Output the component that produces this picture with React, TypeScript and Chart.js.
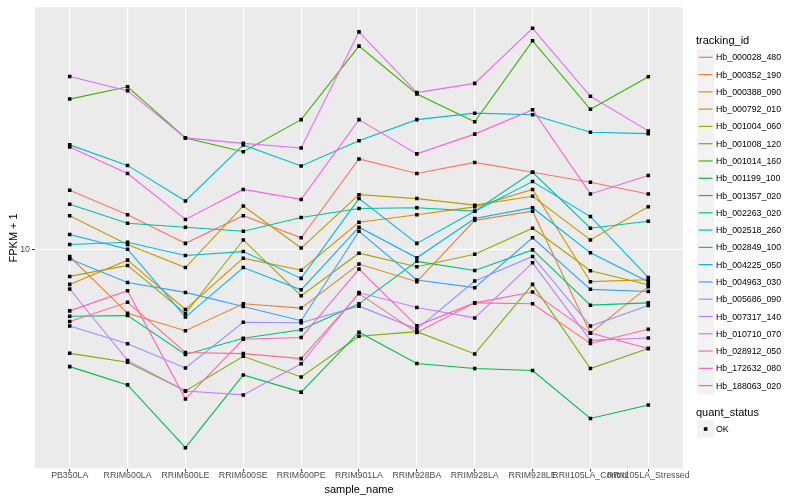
import React, { useEffect, useRef } from "react";
import { Chart, registerables } from "chart.js";

Chart.register(...registerables);

const FONT = "'Liberation Sans', Arial, Helvetica, sans-serif";

const samples = [
  "PB350LA",
  "RRIM600LA",
  "RRIM600LE",
  "RRIM600SE",
  "RRIM600PE",
  "RRIM901LA",
  "RRIM928BA",
  "RRIM928LA",
  "RRIM928LE",
  "RRII105LA_Control",
  "RRII105LA_Stressed",
];

const trackingIds = [
  "Hb_000028_480",
  "Hb_000352_190",
  "Hb_000388_090",
  "Hb_000792_010",
  "Hb_001004_060",
  "Hb_001008_120",
  "Hb_001014_160",
  "Hb_001199_100",
  "Hb_001357_020",
  "Hb_002263_020",
  "Hb_002518_260",
  "Hb_002849_100",
  "Hb_004225_050",
  "Hb_004963_030",
  "Hb_005686_090",
  "Hb_007317_140",
  "Hb_010710_070",
  "Hb_028912_050",
  "Hb_172632_080",
  "Hb_188063_020",
];

const seriesColors = [
  "#F8766D", "#EA8331", "#D89000", "#C09B00", "#A3A500",
  "#7CAE00", "#39B600", "#00BB4E", "#00BF7D", "#00C1A3",
  "#00BFC4", "#00BAE0", "#00B0F6", "#35A2FF", "#9590FF",
  "#C77CFF", "#E76BF3", "#FA62DB", "#FF62BC", "#FF6C91",
];

// FPKM + 1 per sample (order of `samples`)
const hb_000028_480 = [16.3, 13.3, 10.5, 13.2, 11.0, 21.1, 18.7, 20.5, 18.9, 17.4, 15.8];
const hb_000352_190 = [9.42, 5.89, 5.1, 6.37, 6.15, 8.85, 7.65, 12.7, 13.7, 5.0, 7.34];
const hb_000388_090 = [7.48, 9.14, 6.08, 9.29, 8.41, 12.5, 13.3, 14.2, 16.4, 7.65, 7.77];
const hb_000792_010 = [13.2, 10.4, 8.6, 14.3, 10.1, 15.7, 15.2, 14.4, 15.5, 10.8, 14.2];
const hb_001004_060 = [7.99, 8.75, 5.88, 10.8, 6.81, 9.68, 8.65, 9.6, 11.9, 8.37, 7.46];
const hb_001008_120 = [4.23, 3.93, 3.1, 4.13, 3.48, 4.87, 5.06, 4.21, 7.48, 3.73, 4.4];
const hb_001014_160 = [34.6, 38.3, 25.1, 22.4, 29.2, 53.6, 36.1, 28.7, 56.0, 31.8, 41.6];
const hb_001199_100 = [3.79, 3.26, 1.94, 3.54, 3.07, 5.04, 3.89, 3.73, 3.67, 2.47, 2.76];
const hb_001357_020 = [5.75, 5.78, 4.19, 4.79, 5.14, 6.37, 9.05, 8.39, 9.95, 6.3, 6.42];
const hb_002263_020 = [14.5, 12.4, 12.0, 11.6, 13.0, 14.0, 14.1, 13.7, 18.9, 11.9, 12.6];
const hb_002518_260 = [23.7, 20.0, 14.9, 23.7, 19.9, 24.5, 29.2, 30.8, 30.4, 26.3, 26.0];
const hb_002849_100 = [10.4, 10.6, 9.5, 9.81, 7.86, 15.2, 10.5, 13.7, 17.5, 13.1, 7.92];
const hb_004225_050 = [11.3, 10.0, 5.71, 8.6, 7.15, 12.0, 9.32, 12.9, 14.1, 9.71, 7.65];
const hb_004963_030 = [9.22, 7.6, 7.0, 6.23, 5.54, 11.6, 7.76, 7.28, 11.0, 7.18, 7.05];
const hb_005686_090 = [5.3, 4.58, 3.75, 5.47, 5.45, 6.25, 5.17, 7.69, 9.42, 5.3, 6.28];
const hb_007317_140 = [7.2, 3.99, 3.1, 3.0, 3.88, 6.99, 6.18, 5.67, 8.94, 4.71, 4.8];
const hb_010710_070 = [41.7, 37.1, 25.1, 24.0, 23.1, 60.3, 36.5, 39.4, 62.1, 35.4, 26.6];
const hb_028912_050 = [23.3, 18.7, 12.8, 16.4, 15.1, 29.2, 22.0, 25.9, 31.7, 15.8, 18.4];
const hb_172632_080 = [6.01, 7.1, 2.9, 4.75, 4.82, 8.49, 5.31, 6.42, 7.02, 5.0, 4.4];
const hb_188063_020 = [5.5, 6.45, 4.26, 4.22, 4.05, 6.93, 5.03, 6.42, 6.37, 4.59, 5.16];

const seriesValues = [
  hb_000028_480, hb_000352_190, hb_000388_090, hb_000792_010, hb_001004_060,
  hb_001008_120, hb_001014_160, hb_001199_100, hb_001357_020, hb_002263_020,
  hb_002518_260, hb_002849_100, hb_004225_050, hb_004963_030, hb_005686_090,
  hb_007317_140, hb_010710_070, hb_028912_050, hb_172632_080, hb_188063_020,
];

const yTicks = [10];
const yMin = 1.633;
const yMax = 73.9;

const quantStatus = ["OK"];

const panelBg = {
  id: "panelBg",
  beforeDraw(chart: any) {
    const { ctx, chartArea: a } = chart;
    ctx.save();
    ctx.fillStyle = "#EBEBEB";
    ctx.fillRect(a.left, a.top, a.right - a.left, a.bottom - a.top);
    ctx.restore();
  },
};

function ChartCanvas() {
  const ref = useRef<HTMLCanvasElement | null>(null);

  useEffect(() => {
    if (!ref.current) return;
    const lineSets = seriesValues.map((vals, s) => ({
      label: trackingIds[s],
      data: vals.map((v, i) => ({ x: i, y: v })),
      borderColor: seriesColors[s],
      backgroundColor: seriesColors[s],
      borderWidth: 1.1,
      pointRadius: 0,
      tension: 0,
      fill: false,
      order: seriesValues.length - s,
    }));
    const pointSet = {
      label: quantStatus[0],
      data: seriesValues.flatMap((vals) => vals.map((v, i) => ({ x: i, y: v }))),
      showLine: false,
      pointStyle: "rect",
      pointRadius: 2.5,
      pointBackgroundColor: "#000000",
      pointBorderWidth: 0,
      borderColor: "#000000",
      order: -1,
    };

    const gridCommon = {
      color: "#FFFFFF",
      lineWidth: 1.1,
      tickLength: 3,
      tickColor: "#333333",
      tickWidth: 1,
    };

    const chart = new Chart(ref.current, {
      type: "line",
      data: { datasets: [...lineSets, pointSet] as any },
      plugins: [panelBg],
      options: {
        animation: false,
        responsive: false,
        maintainAspectRatio: false,
        layout: { padding: { left: 0, top: 5.2, right: 117, bottom: 0 } },
        plugins: {
          legend: { display: false },
          tooltip: { enabled: false },
        },
        scales: {
          x: {
            type: "linear",
            min: -0.6,
            max: samples.length - 1 + 0.6,
            afterBuildTicks: (s: any) => {
              s.ticks = samples.map((_, i) => ({ value: i }));
            },
            afterFit: (s: any) => {
              s.height = 31.5;
            },
            ticks: {
              autoSkip: false,
              maxRotation: 0,
              minRotation: 0,
              color: "#4D4D4D",
              font: { size: 8.8, family: FONT },
              padding: -1,
              callback: (_v: any, i: number) => samples[i],
            },
            grid: gridCommon,
            border: { display: false },
            title: {
              display: true,
              text: "sample_name",
              color: "#000000",
              font: { size: 11, family: FONT },
              padding: { top: 0, bottom: 3.5 },
            },
          },
          y: {
            type: "logarithmic",
            min: yMin,
            max: yMax,
            afterBuildTicks: (s: any) => {
              s.ticks = yTicks.map((v) => ({ value: v }));
            },
            afterFit: (s: any) => {
              s.width = 35;
            },
            ticks: {
              color: "#4D4D4D",
              font: { size: 8.8, family: FONT },
              padding: 2,
              callback: (v: any) => String(v),
            },
            grid: gridCommon,
            border: { display: false },
            title: {
              display: true,
              text: "FPKM + 1",
              color: "#000000",
              font: { size: 11, family: FONT },
              padding: { top: 7, bottom: 0 },
            },
          },
        },
      } as any,
    });
    return () => chart.destroy();
  }, []);

  return (
    <canvas
      ref={ref}
      width={800}
      height={500}
      style={{ position: "absolute", left: 0, top: 0, width: 800, height: 500 }}
    />
  );
}

function Legend() {
  const rowH = 17.28;
  const firstY = 57.3;
  const keyLeft = 697;
  const keyW = 17.28;
  const textLeft = 716;
  const okY = 429;
  return (
    <div style={{ position: "absolute", left: 0, top: 0, width: 800, height: 500, fontFamily: FONT, pointerEvents: "none" }}>
      <svg width={800} height={500} style={{ position: "absolute", left: 0, top: 0 }}>
        {trackingIds.map((id, i) => {
          const cy = firstY + i * rowH;
          return (
            <g key={id}>
              <rect x={keyLeft} y={cy - rowH / 2} width={keyW} height={rowH} fill="#F2F2F2" />
              <line
                x1={keyLeft + 1.7}
                x2={keyLeft + keyW - 1.7}
                y1={cy}
                y2={cy}
                stroke={seriesColors[i]}
                strokeWidth={1.2}
              />
            </g>
          );
        })}
        {quantStatus.map((q, i) => {
          const cy = okY + i * rowH;
          return (
            <g key={q}>
              <rect x={keyLeft} y={cy - rowH / 2} width={keyW} height={rowH} fill="#F2F2F2" />
              <rect x={keyLeft + keyW / 2 - 1.8} y={cy - 1.8} width={3.6} height={3.6} fill="#000" />
            </g>
          );
        })}
      </svg>
      <div style={{ position: "absolute", left: 696, top: 40 - 7, fontSize: 11, lineHeight: "14px", color: "#000" }}>
        tracking_id
      </div>
      {trackingIds.map((id, i) => {
        const cy = firstY + i * rowH;
        return (
          <div
            key={id}
            style={{ position: "absolute", left: textLeft, top: cy - 6, fontSize: 8.8, lineHeight: "12px", color: "#000", whiteSpace: "nowrap" }}
          >
            {id}
          </div>
        );
      })}
      <div style={{ position: "absolute", left: 696, top: 412.3 - 7, fontSize: 11, lineHeight: "14px", color: "#000" }}>
        quant_status
      </div>
      {quantStatus.map((q, i) => (
        <div
          key={q}
          style={{ position: "absolute", left: textLeft, top: okY + i * rowH - 6, fontSize: 8.8, lineHeight: "12px", color: "#000" }}
        >
          {q}
        </div>
      ))}
    </div>
  );
}

export default function App() {
  return (
    <div style={{ position: "fixed", left: 0, top: 0, width: 800, height: 500, background: "#FFFFFF", overflow: "hidden" }}>
      <ChartCanvas />
      <Legend />
    </div>
  );
}
